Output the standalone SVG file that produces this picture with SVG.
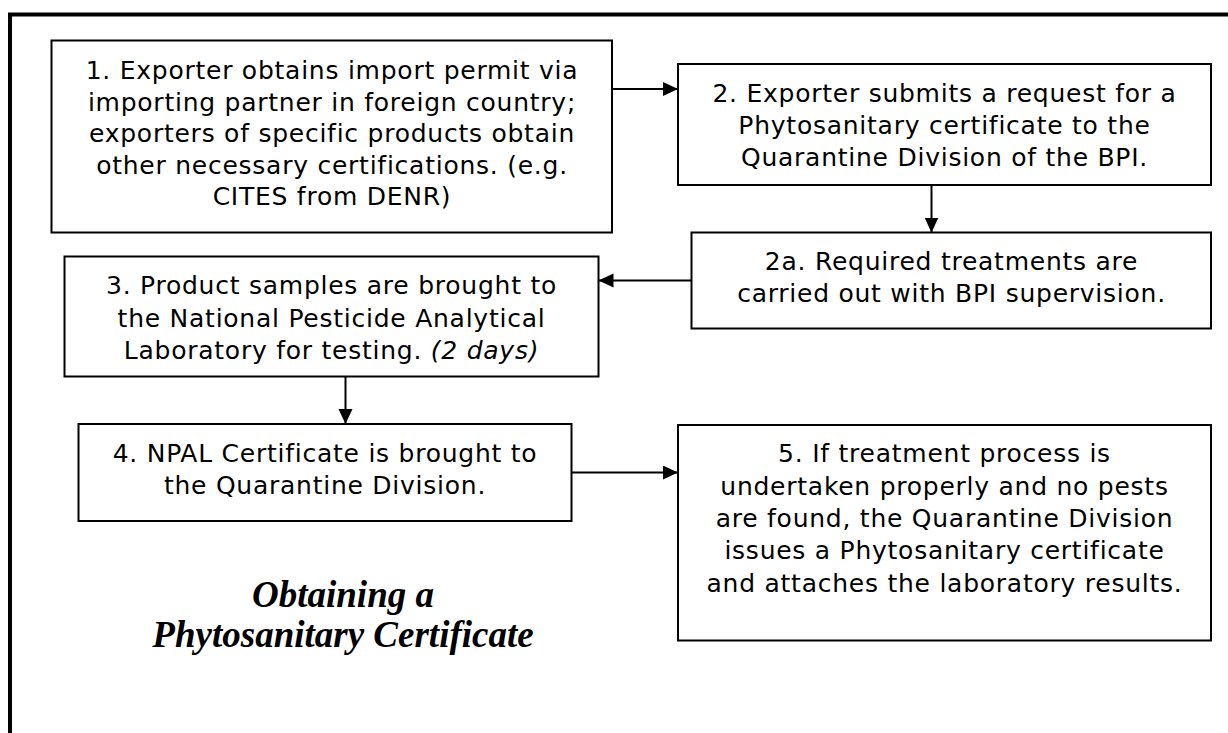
<svg xmlns="http://www.w3.org/2000/svg" width="1228" height="733" viewBox="0 0 1228 733">
<style>
.box{fill:#fff;stroke:#000;stroke-width:2}
.t{font-family:"DejaVu Sans",Verdana,sans-serif;font-size:25px;letter-spacing:0.75px;fill:#000;text-anchor:middle}
.title{font-family:"Liberation Serif","Times New Roman",serif;font-size:37px;font-weight:bold;font-style:italic;fill:#000;text-anchor:middle}
.con{stroke:#000;stroke-width:2;fill:none;marker-end:url(#ah)}
</style>
<defs>
<marker id="ah" markerUnits="userSpaceOnUse" markerWidth="16" markerHeight="16" refX="15" refY="7" orient="auto">
<path d="M0,0 L15,7 L0,14 z" fill="#000"/>
</marker>
</defs>
<rect width="1228" height="733" fill="#fff"/>
<path d="M10,733 L10,14.5 L1228,14.5" fill="none" stroke="#000" stroke-width="4"/>
<g id="n1">
<rect class="box" x="51.5" y="40.5" width="560.5" height="192"/>
<text class="t" x="332" y="79">1. Exporter obtains import permit via</text>
<text class="t" x="332" y="110.5">importing partner in foreign country;</text>
<text class="t" x="332" y="142">exporters of specific products obtain</text>
<text class="t" x="332" y="173.5">other necessary certifications. (e.g.</text>
<text class="t" x="332" y="205">CITES from DENR)</text>
</g>
<g id="n2">
<rect class="box" x="678" y="64" width="533" height="121"/>
<text class="t" x="944.5" y="102">2. Exporter submits a request for a</text>
<text class="t" x="944.5" y="134">Phytosanitary certificate to the</text>
<text class="t" x="944.5" y="166">Quarantine Division of the BPI.</text>
</g>
<g id="n2a">
<rect class="box" x="691.5" y="232.5" width="519.5" height="96"/>
<text class="t" x="951.5" y="270">2a. Required treatments are</text>
<text class="t" x="951.5" y="302">carried out with BPI supervision.</text>
</g>
<g id="n3">
<rect class="box" x="64.5" y="256.5" width="534" height="120"/>
<text class="t" x="331.5" y="294">3. Product samples are brought to</text>
<text class="t" x="331.5" y="326.5">the National Pesticide Analytical</text>
<text class="t" x="331.5" y="359">Laboratory for testing. <tspan font-style="italic">(2 days)</tspan></text>
</g>
<g id="n4">
<rect class="box" x="78.5" y="424" width="493" height="97"/>
<text class="t" x="325" y="462">4. NPAL Certificate is brought to</text>
<text class="t" x="325" y="494">the Quarantine Division.</text>
</g>
<g id="n5">
<rect class="box" x="678" y="425" width="533" height="215.5"/>
<text class="t" x="944.5" y="462">5. If treatment process is</text>
<text class="t" x="944.5" y="494.5">undertaken properly and no pests</text>
<text class="t" x="944.5" y="527">are found, the Quarantine Division</text>
<text class="t" x="944.5" y="559">issues a Phytosanitary certificate</text>
<text class="t" x="944.5" y="591.5">and attaches the laboratory results.</text>
</g>
<g id="title">
<text class="title" x="343" y="607">Obtaining a</text>
<text class="title" x="343" y="647">Phytosanitary Certificate</text>
</g>
<g id="connectors">
<line class="con" x1="612" y1="89" x2="678" y2="89"/>
<line class="con" x1="931.5" y1="185" x2="931.5" y2="232.5"/>
<line class="con" x1="691.5" y1="280.5" x2="598.5" y2="280.5"/>
<line class="con" x1="345.5" y1="376.5" x2="345.5" y2="424"/>
<line class="con" x1="571.5" y1="472.5" x2="678" y2="472.5"/>
</g>
</svg>
